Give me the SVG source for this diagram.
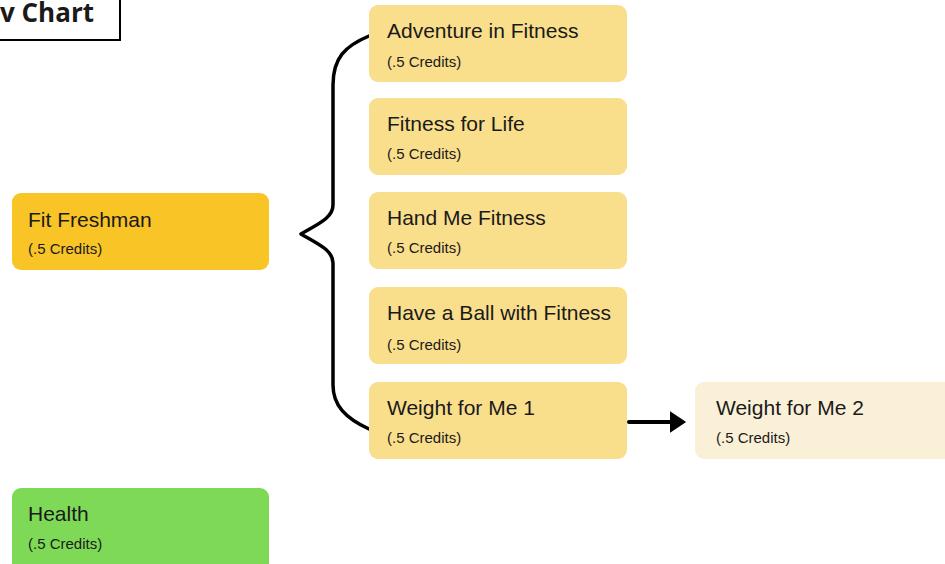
<svg xmlns="http://www.w3.org/2000/svg" width="945" height="564" viewBox="0 0 945 564">
<defs>
<style>
.t{font-family:"Liberation Sans",Arial,sans-serif;font-size:21px;fill:#1a1a1a}
.c{font-family:"Liberation Sans",Arial,sans-serif;font-size:15px;fill:#1a1a1a}
.y{fill:#F9DE8C}
.conn{fill:none;stroke:#000;stroke-linecap:round;stroke-linejoin:round}
</style>
<marker id="ah" markerWidth="16" markerHeight="22" refX="2" refY="11" orient="auto" markerUnits="userSpaceOnUse">
<path d="M0,1 L15,11 L0,21 Z" fill="#000" stroke="#000" stroke-width="1.5" stroke-linejoin="round"/>
</marker>
</defs>
<rect width="945" height="564" fill="#fff"/>
<g id="title">
<rect x="-10" y="-10" width="130" height="50" fill="#fff" stroke="#000" stroke-width="2"/>
<text x="0" y="22" style="font-family:'Open Sans',sans-serif;font-weight:bold;font-size:26px;fill:#1a1a1a">v Chart</text>
</g>
<g id="connectors">
<path class="conn" stroke-width="3.5" d="M369,36 C345,46 333,58 333,85 L333,205 C333,218 318,224 301,234 C318,244 333,250 333,263 L333,385 C333,405 345,418 369,429"/>
<line class="conn" stroke-width="4" stroke-linecap="butt" x1="629" y1="422" x2="672" y2="422" marker-end="url(#ah)"/>
</g>
<g id="fit-freshman">
<rect x="12" y="193" width="257" height="77" rx="9" fill="#F8C426"/>
<text class="t" x="28" y="227">Fit Freshman</text>
<text class="c" x="28" y="254">(.5 Credits)</text>
</g>
<g id="health">
<rect x="12" y="488" width="257" height="86" rx="9" fill="#7ED957"/>
<text class="t" x="28" y="521">Health</text>
<text class="c" x="28" y="549">(.5 Credits)</text>
</g>
<g id="adventure">
<rect class="y" x="369" y="5" width="258" height="77" rx="9"/>
<text class="t" x="387" y="38">Adventure in Fitness</text>
<text class="c" x="387" y="67">(.5 Credits)</text>
</g>
<g id="fitness-life">
<rect class="y" x="369" y="98" width="258" height="77" rx="9"/>
<text class="t" x="387" y="131">Fitness for Life</text>
<text class="c" x="387" y="159">(.5 Credits)</text>
</g>
<g id="hand-me">
<rect class="y" x="369" y="192" width="258" height="77" rx="9"/>
<text class="t" x="387" y="225">Hand Me Fitness</text>
<text class="c" x="387" y="253">(.5 Credits)</text>
</g>
<g id="have-ball">
<rect class="y" x="369" y="287" width="258" height="77" rx="9"/>
<text class="t" x="387" y="320">Have a Ball with Fitness</text>
<text class="c" x="387" y="350">(.5 Credits)</text>
</g>
<g id="weight1">
<rect class="y" x="369" y="382" width="258" height="77" rx="9"/>
<text class="t" x="387" y="415">Weight for Me 1</text>
<text class="c" x="387" y="443">(.5 Credits)</text>
</g>
<g id="weight2">
<rect x="695" y="382" width="262" height="77" rx="9" fill="#FAF0D8"/>
<text class="t" x="716" y="415">Weight for Me 2</text>
<text class="c" x="716" y="443">(.5 Credits)</text>
</g>
</svg>
